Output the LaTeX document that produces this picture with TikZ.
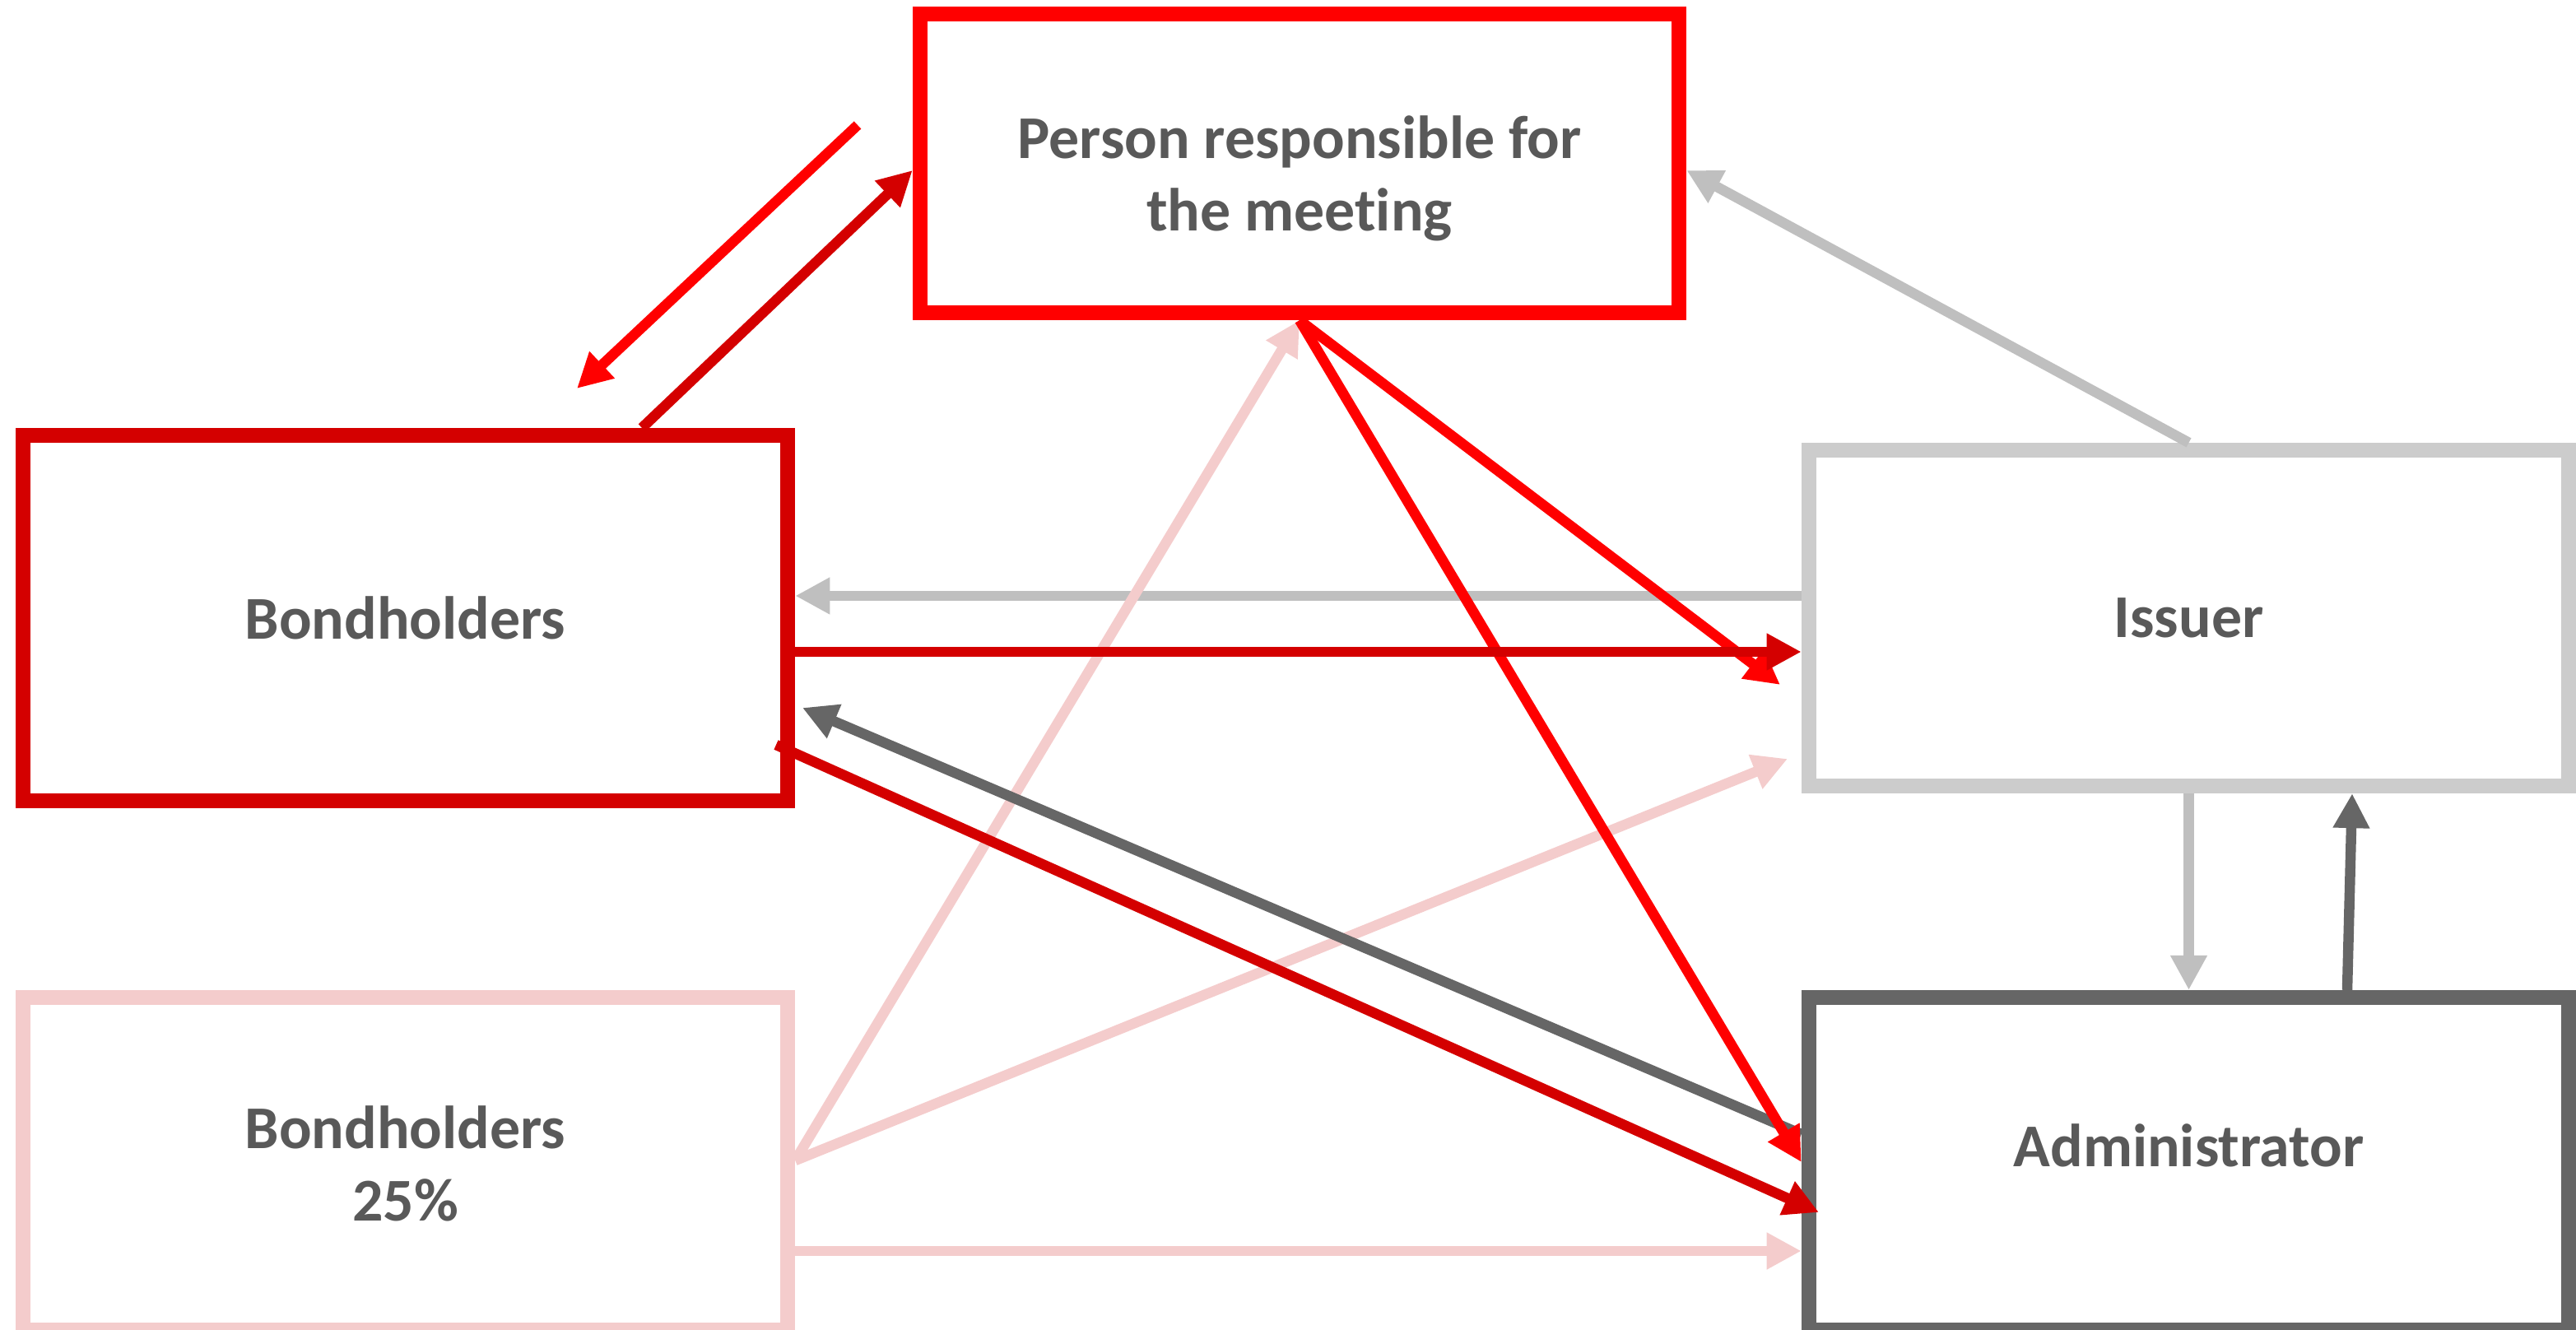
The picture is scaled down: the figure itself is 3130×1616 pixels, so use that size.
\documentclass[tikz,border=0pt]{standalone}
\usepackage{fontspec}
\setmainfont{Carlito}[Ligatures=NoCommon]
\usetikzlibrary{arrows.meta}
\definecolor{rbright}{HTML}{FF0000}
\definecolor{rdark}{HTML}{D40000}
\definecolor{glight}{HTML}{CCCCCC}
\definecolor{garrow}{HTML}{BFBFBF}
\definecolor{gdark}{HTML}{666666}
\definecolor{pinkc}{HTML}{F4CCCC}
\definecolor{txtgray}{HTML}{595959}
\begin{document}
\begin{tikzpicture}[x=0.01cm,y=-0.01cm,
  txt/.style={inner sep=0pt, align=center, font=\fontsize{21}{25}\selectfont\bfseries, text=txtgray},
  box/.style={txt, draw, rectangle, line width=0.18cm},
  conn/.style={line width=0.125cm, -{Triangle[length=0.42cm,width=0.42cm]}}]
\useasboundingbox (0,0) rectangle (3130,1616);
% boxes
\node[box, draw=rbright, minimum width=9.22cm, minimum height=3.63cm] (person) at (1579,198.5) {};
\node[txt] (persontext) at (1579,216.5) {Person responsible for\\the meeting};
\node[box, draw=rdark, minimum width=9.29cm, minimum height=4.44cm] (bond) at (492.5,751) {Bondholders};
\node[box, draw=glight, minimum width=9.23cm, minimum height=4.08cm] (issuer) at (2659.5,751) {Issuer};
\node[box, draw=pinkc, minimum width=9.29cm, minimum height=4.04cm] (bond25) at (492.5,1414) {Bondholders\\25\%};
\node[box, draw=gdark, minimum width=9.23cm, minimum height=4.04cm, text height=0.5cm, text depth=0.44cm] (admin) at (2659.5,1414) {Administrator};
% free ends
\coordinate (f1s) at (1042,152);
\coordinate (f1e) at (701,472);
\coordinate (r6e) at (2163,832);
\coordinate (p9e) at (2172,922);
\coordinate (g11e) at (975,860);
\coordinate (d12s) at (943,905);
\coordinate (d12e) at (2210,1473);
% light gray connectors
\draw[conn, garrow] (issuer.north) -- (person.east |- 0,207);
\draw[conn, garrow] (issuer.west |- 0,724) -- (bond.east |- 0,724);
\draw[conn, garrow] (issuer.south) -- (admin.north);
% pink connectors
\draw[conn, pinkc] (bond25.east |- 0,1410) -- (person.south);
\draw[conn, pinkc] (bond25.east |- 0,1410) -- (p9e);
\draw[conn, pinkc] (bond25.east |- 0,1520) -- (admin.west |- 0,1520);
% dark gray connectors
\draw[conn, gdark] (admin.west |- 0,1378) -- (g11e);
\draw[conn, gdark] (2852,0 |- admin.north) -- (2858,0 |- issuer.south);
% bright red connectors
\draw[conn, rbright] (f1s) -- (f1e);
\draw[conn, rbright] (person.south) -- (r6e);
\draw[conn, rbright] (person.south) -- (admin.west |- 0,1412);
% dark red connectors
\draw[conn, rdark] (780,0 |- bond.north) -- (person.west |- 0,207);
\draw[conn, rdark] (bond.east |- 0,792) -- (issuer.west |- 0,792);
\draw[conn, rdark] (d12s) -- (d12e);
\end{tikzpicture}
\end{document}
